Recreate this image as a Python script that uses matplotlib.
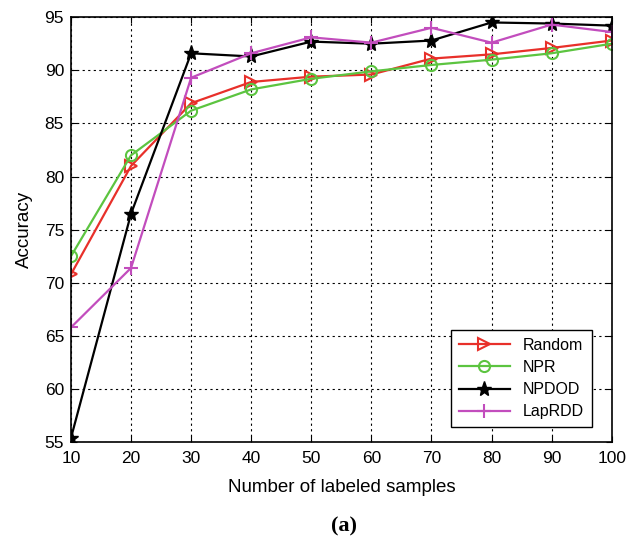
import numpy as np
import matplotlib
matplotlib.use('Agg')
import matplotlib.pyplot as plt

plt.rcParams['font.family'] = ['Liberation Sans', 'DejaVu Sans']

samples = [10, 20, 30, 40, 50, 60, 70, 80, 90, 100]
random_acc = [70.8, 81.0, 86.9, 88.9, 89.4, 89.6, 91.1, 91.5, 92.1, 92.8]
npr_acc = [72.5, 82.0, 86.2, 88.2, 89.2, 89.9, 90.5, 91.0, 91.6, 92.5]
npdod_acc = [55.4, 76.5, 91.6, 91.3, 92.7, 92.5, 92.8, 94.5, 94.4, 94.2]
laprdd_acc = [65.8, 71.4, 89.3, 91.6, 93.1, 92.6, 94.0, 92.6, 94.3, 93.6]

fig = plt.figure(figsize=(6.28, 5.36), dpi=100)
ax = fig.add_axes([0.113, 0.175, 0.861, 0.793])

ax.plot(samples, random_acc, color='#e8302a', lw=1.6, marker='>', ms=9,
        mfc='none', mew=1.5, label='Random')
ax.plot(samples, npr_acc, color='#5cc440', lw=1.6, marker='o', ms=8,
        mfc='none', mew=1.5, label='NPR')
ax.plot(samples, npdod_acc, color='black', lw=1.6, marker='*', ms=11,
        label='NPDOD')
ax.plot(samples, laprdd_acc, color='#c24dbd', lw=1.6, marker='+', ms=10,
        mew=1.5, label='LapRDD')

ax.set_xlim(10, 100)
ax.set_ylim(55, 95)
ax.set_xticks(np.arange(10, 101, 10))
ax.set_yticks(np.arange(55, 96, 5))
ax.tick_params(direction='in', labelsize=12.5, length=4, top=True, right=True)
ax.tick_params(axis='x', pad=6)
ax.tick_params(axis='y', pad=5)
ax.grid(True, color='black', linestyle=(0, (2, 3)), lw=0.8)
for s in ax.spines.values():
    s.set_linewidth(1.2)

ax.set_xlabel('Number of labeled samples', fontsize=13.5, labelpad=10)
ax.set_ylabel('Accuracy', fontsize=13.5, labelpad=8)

leg = ax.legend(loc='lower right', bbox_to_anchor=(0.963, 0.035), fontsize=11.5,
                fancybox=False, edgecolor='black', framealpha=1,
                handlelength=3.2, borderpad=0.5, labelspacing=0.45,
                borderaxespad=0)
leg.get_frame().set_linewidth(1.0)

fig.text(0.548, 0.0, '(a)', ha='center', va='bottom', fontsize=16,
         fontweight='bold', family='Liberation Serif')

fig.savefig('out.png', dpi=100)
